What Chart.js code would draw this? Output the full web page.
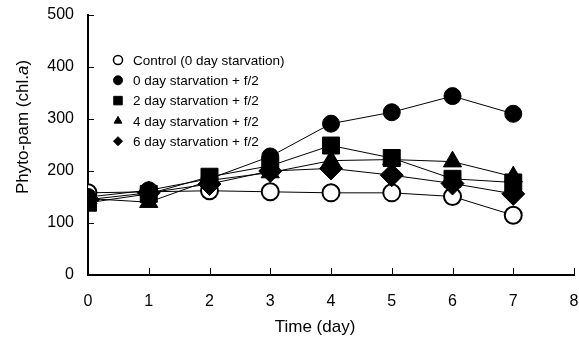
<!DOCTYPE html>
<html>
<head>
<meta charset="utf-8">
<script src="https://cdn.jsdelivr.net/npm/chart.js@4.4.1/dist/chart.umd.min.js"></script>
<style>
  html, body { margin: 0; padding: 0; background: #fff; }
  #wrap { width: 579px; height: 337px; }
</style>
</head>
<body>
<div id="wrap"><canvas id="chart" width="579" height="337"></canvas></div>
<script>
// Data
const days = [0, 1, 2, 3, 4, 5, 6, 7];
const controlVals = [158, 160, 162, 160, 158, 158, 151, 115];
const day0Vals = [150, 163, 185, 228, 291, 313, 344, 310];
const day2Vals = [139, 156, 189, 210, 249, 225, 185, 178];
const day4Vals = [147, 140, 182, 197, 220, 222, 218, 189];
const day6Vals = [145, 158, 175, 200, 205, 192, 176, 156];
const seriesLabels = [
    'Control (0 day starvation)',
    '0 day starvation + f/2',
    '2 day starvation + f/2',
    '4 day starvation + f/2',
    '6 day starvation + f/2'
];
const xTicks = [0, 1, 2, 3, 4, 5, 6, 7, 8];
const yTicks = [0, 100, 200, 300, 400, 500];

const FONT = '"Liberation Sans", Arial, sans-serif';

function toPoints(vals) {
    return vals.map(function (v, i) { return { x: days[i], y: v }; });
}

function series(label, vals, style, radius, fill, order) {
    return {
        label: label,
        data: toPoints(vals),
        borderColor: '#000',
        borderWidth: 1,
        pointStyle: style,
        pointRadius: radius,
        pointHoverRadius: radius,
        pointBackgroundColor: fill,
        pointBorderColor: '#000',
        pointBorderWidth: fill === '#fff' ? 2 : 1,
        order: order,
        tension: 0
    };
}

// Legend drawn inside the plot area, as in the original
const insideLegend = {
    id: 'insideLegend',
    afterDraw: function (chart) {
        const ctx = chart.ctx;
        const x0 = chart.chartArea.left + 30;
        const y0 = chart.chartArea.top + 45;
        ctx.save();
        ctx.font = '13.5px ' + FONT;
        ctx.textBaseline = 'middle';
        chart.data.datasets.forEach(function (ds, i) {
            const y = y0 + i * 20.3;
            ctx.fillStyle = ds.pointBackgroundColor;
            ctx.strokeStyle = '#000';
            ctx.lineWidth = ds.pointBorderWidth === 2 ? 1.5 : 1;
            Chart.helpers.drawPoint(ctx, {
                pointStyle: ds.pointStyle,
                radius: ds.pointStyle === 'rect' ? 6 : 4.5,
                rotation: 0,
                borderWidth: 1
            }, x0, y);
            ctx.fillStyle = '#000';
            ctx.fillText(ds.label, x0 + 15, y + 1);
        });
        ctx.restore();
    }
};

// Inward tick marks and both axis titles (y title has an italic "a")
const axisDecor = {
    id: 'axisDecor',
    afterDraw: function (chart) {
        const ctx = chart.ctx;
        const xs = chart.scales.x;
        const ys = chart.scales.y;
        ctx.save();
        ctx.strokeStyle = '#000';
        ctx.lineWidth = 1;
        ctx.beginPath();
        xTicks.forEach(function (t) {
            const px = Math.round(xs.getPixelForValue(t)) + 0.5;
            ctx.moveTo(px, ys.bottom);
            ctx.lineTo(px, ys.bottom - 7);
        });
        yTicks.forEach(function (t) {
            const py = Math.round(ys.getPixelForValue(t)) + 0.5;
            ctx.moveTo(xs.left, py);
            ctx.lineTo(xs.left + 6, py);
        });
        ctx.stroke();

        ctx.fillStyle = '#000';
        ctx.textBaseline = 'middle';

        // x title
        ctx.font = '17px ' + FONT;
        ctx.textAlign = 'center';
        ctx.fillText('Time (day)', 315, 327);

        // y title
        ctx.textAlign = 'left';
        const parts = [
            { text: 'Phyto-pam (chl.', font: '17px ' + FONT },
            { text: 'a', font: 'italic 17px ' + FONT },
            { text: ')', font: '17px ' + FONT }
        ];
        let total = 0;
        parts.forEach(function (p) { ctx.font = p.font; p.w = ctx.measureText(p.text).width; total += p.w; });
        ctx.translate(23, 127);
        ctx.rotate(-Math.PI / 2);
        let cx = -total / 2;
        parts.forEach(function (p) { ctx.font = p.font; ctx.fillText(p.text, cx, 0); cx += p.w; });
        ctx.restore();
    }
};

const ctx = document.getElementById('chart').getContext('2d');
new Chart(ctx, {
    type: 'line',
    data: {
        datasets: [
            series(seriesLabels[0], controlVals, 'circle', 8.5, '#fff', 5),
            series(seriesLabels[1], day0Vals, 'circle', 8.5, '#000', 4),
            series(seriesLabels[2], day2Vals, 'rect', 12, '#000', 3),
            series(seriesLabels[3], day4Vals, 'triangle', 10.5, '#000', 2),
            series(seriesLabels[4], day6Vals, 'rectRot', 11.5, '#000', 1)
        ]
    },
    options: {
        responsive: false,
        animation: false,
        layout: { autoPadding: false, padding: { left: 0, right: 5, top: 15, bottom: 0 } },
        plugins: {
            legend: { display: false },
            tooltip: { enabled: false }
        },
        scales: {
            x: {
                type: 'linear',
                min: 0,
                max: 8,
                afterBuildTicks: function (scale) {
                    scale.ticks = xTicks.map(function (v) { return { value: v }; });
                },
                afterFit: function (scale) {
                    scale.height = 62;
                    scale.paddingLeft = 0;
                    scale.paddingRight = 0;
                },
                grid: { display: false },
                border: { display: true, color: '#000', width: 2 },
                ticks: {
                    color: '#000',
                    padding: 9,
                    maxRotation: 0,
                    font: { family: FONT, size: 16 }
                }
            },
            y: {
                min: 0,
                max: 500,
                afterBuildTicks: function (scale) {
                    scale.ticks = yTicks.map(function (v) { return { value: v }; });
                },
                afterFit: function (scale) {
                    scale.width = 88;
                    scale.paddingTop = 0;
                    scale.paddingBottom = 0;
                },
                grid: { display: false },
                border: { display: true, color: '#000', width: 2 },
                ticks: {
                    color: '#000',
                    padding: 6,
                    font: { family: FONT, size: 16 }
                }
            }
        }
    },
    plugins: [insideLegend, axisDecor]
});
</script>
</body>
</html>
